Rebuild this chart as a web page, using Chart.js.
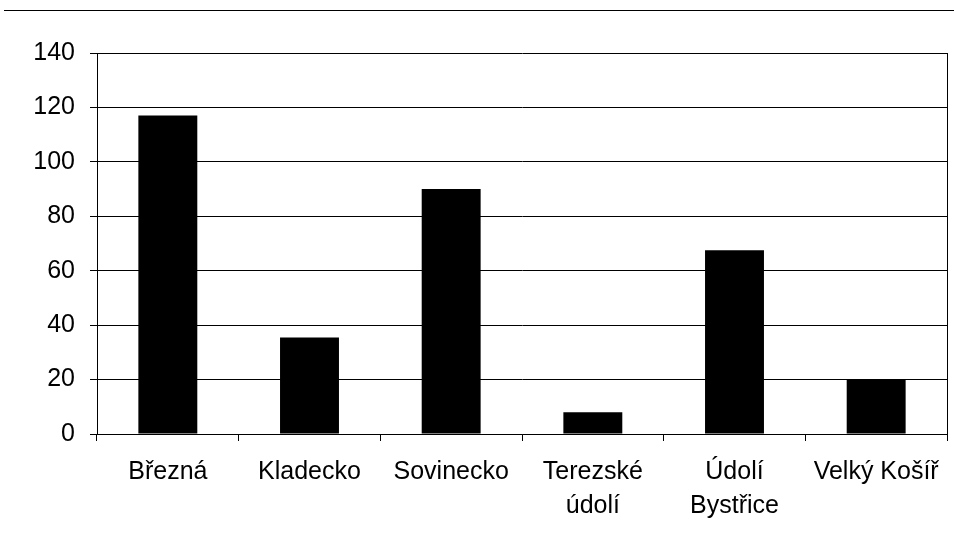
<!DOCTYPE html>
<html>
<head>
<meta charset="utf-8">
<script src="https://cdn.jsdelivr.net/npm/chart.js@4"></script>
<style>
  html, body { margin: 0; padding: 0; background: #fff; }
  #wrap { width: 954px; height: 539px; }
</style>
</head>
<body>
<div id="wrap"><canvas id="chart" width="954" height="539"></canvas></div>
<script>
const localities = ['Březná', 'Kladecko', 'Sovinecko', ['Terezské', 'údolí'], ['Údolí', 'Bystřice'], 'Velký Košíř'];
const counts = [117, 35.5, 90, 8, 67.5, 20];
const yTicks = [0, 20, 40, 60, 80, 100, 120, 140];

// top rule line and right frame of plot area
const framePlugin = {
  id: 'frame',
  afterDraw: (chart) => {
    const ctx = chart.ctx;
    const area = chart.chartArea;
    ctx.save();
    ctx.strokeStyle = '#000';
    ctx.lineWidth = 1;
    ctx.beginPath();
    ctx.moveTo(4, 10.5);
    ctx.lineTo(954, 10.5);
    ctx.moveTo(Math.round(area.right) + 0.5, area.top);
    ctx.lineTo(Math.round(area.right) + 0.5, area.bottom + 7);
    ctx.stroke();
    ctx.restore();
  }
};

const ctx = document.getElementById('chart').getContext('2d');
new Chart(ctx, {
  type: 'bar',
  data: {
    labels: localities,
    datasets: [{
      data: counts,
      backgroundColor: '#000',
      borderWidth: 0,
      barPercentage: 0.416,
      categoryPercentage: 1
    }]
  },
  options: {
    responsive: false,
    animation: false,
    layout: { padding: { left: 0, right: 7, top: 53, bottom: 0 } },
    plugins: { legend: { display: false }, tooltip: { enabled: false } },
    scales: {
      x: {
        grid: { offset: true, drawOnChartArea: false, drawTicks: true, tickLength: 7, color: '#000', tickColor: '#000' },
        border: { display: true, color: '#000', width: 1 },
        ticks: { color: '#000', font: { family: 'Liberation Sans, Arial, sans-serif', size: 25, lineHeight: 1.36 }, padding: 14, maxRotation: 0, autoSkip: false },
        afterFit: (scale) => { scale.height = 105; }
      },
      y: {
        min: 0,
        max: 140,
        afterBuildTicks: (scale) => { scale.ticks = yTicks.map(v => ({ value: v })); },
        grid: { color: '#000', tickColor: '#000', tickLength: 7, lineWidth: 1 },
        border: { display: true, color: '#000', width: 1 },
        ticks: { color: '#000', font: { family: 'Liberation Sans, Arial, sans-serif', size: 25 }, padding: 15 },
        afterFit: (scale) => { scale.width = 97; }
      }
    }
  },
  plugins: [framePlugin]
});
</script>
</body>
</html>
